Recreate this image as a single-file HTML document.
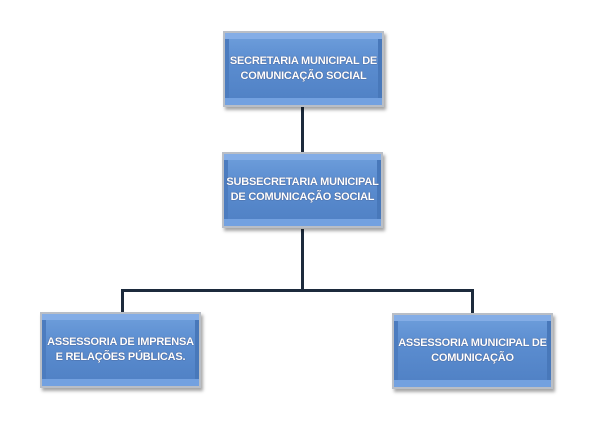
<!DOCTYPE html>
<html><head><meta charset="utf-8"><style>
body{margin:0;width:616px;height:429px;background:#fff;position:relative;overflow:hidden;font-family:"Liberation Sans",sans-serif}
.b{position:absolute;width:161px;height:76px;box-sizing:border-box;border:2px solid #b9bec6;
background:linear-gradient(#6f9fdc,#5b8dd0 40%,#4f80c4);
box-shadow:inset 0 8px 0 -2px #84ade6,inset 0 -9px 0 -2px #73a1e0,inset 6px 0 0 -2px #4c7cbf,inset -6px 0 0 -2px #4878ba,2px 3px 3px rgba(0,0,0,.35);
color:#fff;font-weight:bold;font-size:11px;letter-spacing:-0.2px;line-height:15px;display:flex;align-items:center;justify-content:center;text-align:center;text-shadow:0 0 1px #335}
.l{position:absolute;background:#1c2a3c}
</style></head><body>
<div class="l" style="left:301px;top:107px;width:3px;height:46px"></div>
<div class="l" style="left:301px;top:229px;width:3px;height:62px"></div>
<div class="l" style="left:121px;top:289px;width:353px;height:3px"></div>
<div class="l" style="left:121px;top:289px;width:3px;height:24px"></div>
<div class="l" style="left:471px;top:289px;width:3px;height:25px"></div>
<div class="b" style="left:223px;top:31px">SECRETARIA MUNICIPAL DE<br>COMUNICAÇÃO SOCIAL</div>
<div class="b" style="left:222px;top:152px">SUBSECRETARIA MUNICIPAL<br>DE COMUNICAÇÃO SOCIAL</div>
<div class="b" style="left:40px;top:312px">ASSESSORIA DE IMPRENSA<br>E RELAÇÕES PÚBLICAS.</div>
<div class="b" style="left:392px;top:313px">ASSESSORIA MUNICIPAL DE<br>COMUNICAÇÃO</div>
</body></html>
